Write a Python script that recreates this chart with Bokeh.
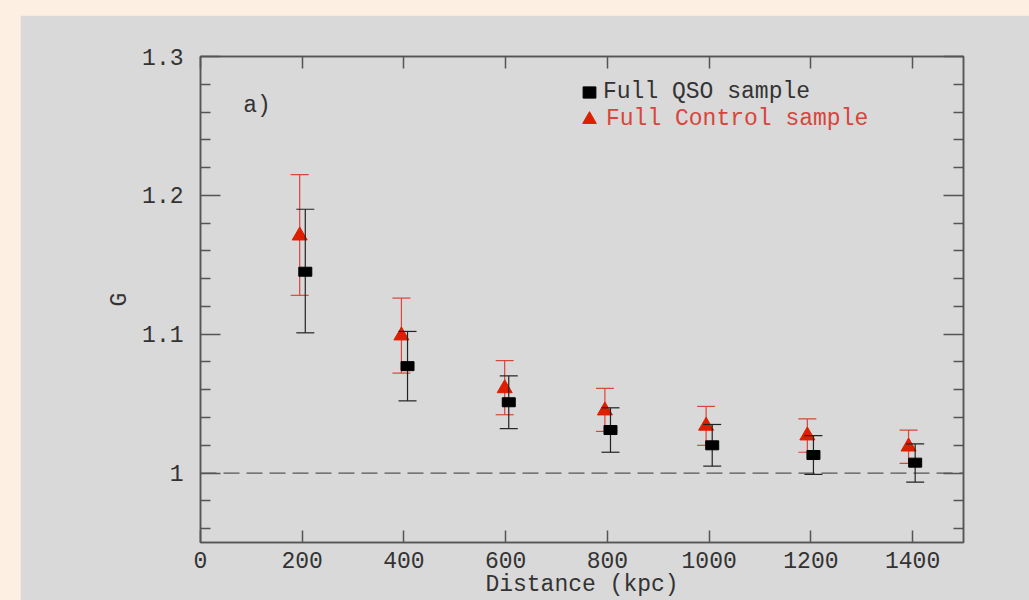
from bokeh.plotting import figure
from bokeh.models import (ColumnDataSource, LinearAxis, FixedTicker, Span, Label,
                          Legend, LegendItem, Range1d, GlobalInlineStyleSheet,
                          CustomLabelingPolicy)
from bokeh.embed import file_html
from bokeh.resources import INLINE

# ---------------- data ----------------
distance_ticks = [0, 200, 400, 600, 800, 1000, 1200, 1400]
distance_tick_labels = ["0", "200", "400", "600", "800", "1000", "1200", "1400"]
g_ticks = [1.0, 1.1, 1.2, 1.3]
g_tick_labels = ["1", "1.1", "1.2", "1.3"]
g_minor_ticks = [0.96, 0.98, 1.02, 1.04, 1.06, 1.08, 1.12, 1.14, 1.16, 1.18,
                 1.22, 1.24, 1.26, 1.28]

# Full QSO sample (black squares), plotted slightly right of each bin
qso_x = [206, 407, 606, 806, 1006, 1205, 1405]
qso_g = [1.145, 1.077, 1.051, 1.031, 1.020, 1.013, 1.0075]
qso_hi = [1.190, 1.102, 1.070, 1.047, 1.035, 1.027, 1.021]
qso_lo = [1.101, 1.052, 1.032, 1.015, 1.005, 0.999, 0.9935]

# Full Control sample (red triangles), plotted slightly left of each bin
ctrl_x = [195, 395, 598, 795, 994, 1193, 1392]
ctrl_g = [1.171, 1.099, 1.061, 1.045, 1.034, 1.027, 1.019]
ctrl_hi = [1.215, 1.126, 1.081, 1.061, 1.048, 1.039, 1.031]
ctrl_lo = [1.128, 1.072, 1.042, 1.030, 1.020, 1.015, 1.007]

baseline_g = 1.0
panel_label = "a)"
panel_label_pos = (84, 1.264)

FONT = "Liberation Mono"
FS = "23px"
TEXT = "#333333"
AXIS = "#555555"
RED = "#dd1f00"
RED_LINE = "#d8453a"
GRAY = "#d9d9d9"
PEACH = "#fdefe2"

qso = ColumnDataSource(dict(x=qso_x, g=qso_g, hi=qso_hi, lo=qso_lo))
ctrl = ColumnDataSource(dict(x=ctrl_x, g=ctrl_g, hi=ctrl_hi, lo=ctrl_lo))

p = figure(width=1009, height=585, output_backend="svg", toolbar_location=None,
           title=None, x_range=Range1d(0, 1500), y_range=Range1d(0.95, 1.3),
           min_border_left=180, min_border_right=66, min_border_top=41,
           min_border_bottom=58)
p.margin = (15, 0, 0, 20)
p.stylesheets = [GlobalInlineStyleSheet(css=f"body {{ background-color: {PEACH}; }}")]

p.background_fill_color = GRAY
p.border_fill_color = GRAY
p.outline_line_color = AXIS
p.outline_line_width = 1.5
p.xgrid.visible = False
p.ygrid.visible = False

xticker = FixedTicker(ticks=distance_ticks, minor_ticks=[])
yticker = FixedTicker(ticks=g_ticks, minor_ticks=g_minor_ticks)


def style_axis(ax, major_in, minor_in):
    ax.axis_line_color = AXIS
    ax.axis_line_width = 1.5
    ax.major_tick_line_color = AXIS
    ax.major_tick_line_width = 1.5
    ax.minor_tick_line_color = AXIS
    ax.minor_tick_line_width = 1.5
    ax.major_tick_in = major_in
    ax.major_tick_out = 0
    ax.minor_tick_in = minor_in
    ax.minor_tick_out = 0
    ax.major_label_text_font = FONT
    ax.major_label_text_font_size = FS
    ax.major_label_text_color = TEXT
    ax.axis_label_text_font = FONT
    ax.axis_label_text_font_size = FS
    ax.axis_label_text_font_style = "normal"
    ax.axis_label_text_color = TEXT


xa = p.xaxis[0]
xa.ticker = xticker
xa.major_label_overrides = dict(zip(distance_ticks, distance_tick_labels))
xa.axis_label = "Distance (kpc)"
style_axis(xa, 12, 0)
xa.major_label_standoff = 9
xa.axis_label_standoff = 1

ya = p.yaxis[0]
ya.ticker = yticker
ya.major_label_overrides = dict(zip(g_ticks, g_tick_labels))
ya.axis_label = "G"
style_axis(ya, 20, 10)
ya.major_label_standoff = 17
ya.axis_label_standoff = 6

top = LinearAxis(ticker=xticker,
                 major_label_policy=CustomLabelingPolicy(code="for (const i of indices) indices.unset(i)"))
style_axis(top, 12, 0)
top.major_label_standoff = 0
p.add_layout(top, "above")

right = LinearAxis(ticker=yticker,
                   major_label_policy=CustomLabelingPolicy(code="for (const i of indices) indices.unset(i)"))
style_axis(right, 20, 10)
right.major_label_standoff = 0
p.add_layout(right, "right")

# reference line at G = 1
p.add_layout(Span(location=baseline_g, dimension="width", line_color=AXIS,
                  line_width=1.2, line_dash="16 7", level="underlay"))

# control sample error bars + markers
p.segment(x0="x", y0="lo", x1="x", y1="hi", source=ctrl, line_color=RED_LINE, line_width=1.2)
p.scatter(x="x", y="hi", source=ctrl, marker="dash", size=18, line_color=RED_LINE, line_width=1.2)
p.scatter(x="x", y="lo", source=ctrl, marker="dash", size=18, line_color=RED_LINE, line_width=1.2)
ctrl_r = p.scatter(x="x", y="g", source=ctrl, marker="triangle", size=15,
                   fill_color=RED, line_color=RED)

# QSO sample error bars + markers
p.segment(x0="x", y0="lo", x1="x", y1="hi", source=qso, line_color="#222222", line_width=1.2)
p.scatter(x="x", y="hi", source=qso, marker="dash", size=18, line_color="#222222", line_width=1.2)
p.scatter(x="x", y="lo", source=qso, marker="dash", size=18, line_color="#222222", line_width=1.2)
qso_r = p.rect(x="x", y="g", source=qso, width=13, height=9, width_units="screen",
               height_units="screen", fill_color="black", line_color="black")

# legends
leg1 = Legend(items=[LegendItem(label="Full QSO sample", renderers=[qso_r])],
              location=(381, 437), orientation="vertical", padding=0, margin=0,
              glyph_width=16, glyph_height=14, label_standoff=6,
              label_text_font=FONT, label_text_font_size=FS,
              label_text_color=TEXT, background_fill_alpha=0,
              border_line_color=None)
leg2 = Legend(items=[LegendItem(label="Full Control sample", renderers=[ctrl_r])],
              location=(372, 404), orientation="vertical", padding=0, margin=0,
              glyph_width=34, glyph_height=38, label_standoff=0,
              label_text_font=FONT, label_text_font_size=FS,
              label_text_color=RED_LINE, background_fill_alpha=0,
              border_line_color=None)
p.add_layout(leg1, "center")
p.add_layout(leg2, "center")

p.add_layout(Label(x=panel_label_pos[0], y=panel_label_pos[1], text=panel_label,
                   text_font=FONT, text_font_size=FS, text_color=TEXT,
                   text_baseline="middle", text_align="left"))

html = file_html(p, INLINE)
open("out.html", "w").write(html)
